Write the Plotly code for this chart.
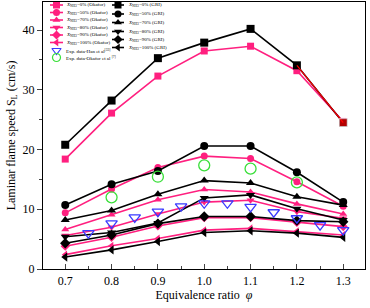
import plotly.graph_objects as go

phi = [0.7, 0.8, 0.9, 1.0, 1.1, 1.2, 1.3]

okafor_0 = [18.4, 26.1, 32.3, 36.5, 37.3, 33.2, 24.7]
okafor_50 = [9.4, 13.4, 17.0, 18.9, 18.5, 14.6, 10.5]
okafor_70 = [6.6, 9.1, 11.6, 13.3, 12.9, 10.9, 9.2]
okafor_80 = [5.6, 7.0, 9.2, 11.2, 11.5, 9.6, 8.5]
okafor_90 = [3.8, 5.3, 7.2, 8.6, 8.6, 7.8, 7.1]
okafor_100 = [2.4, 3.9, 5.1, 6.5, 6.8, 6.3, 5.7]

gri_0 = [20.8, 28.2, 35.3, 37.9, 40.2, 34.1, 24.5]
gri_50 = [10.7, 14.2, 16.4, 20.6, 20.6, 16.2, 11.2]
gri_70 = [8.2, 9.8, 12.5, 14.8, 14.4, 12.1, 10.7]
gri_80 = [5.4, 6.1, 7.7, 11.9, 12.4, 10.1, 8.2]
gri_90 = [4.3, 5.7, 7.6, 8.8, 8.8, 8.1, 7.9]
gri_100 = [2.0, 3.2, 4.6, 6.1, 6.4, 6.0, 5.3]

phi_han = [0.75, 0.8, 0.85, 0.9, 0.95, 1.0, 1.05, 1.1, 1.15, 1.2, 1.25, 1.3]
exp_han = [6.0, 7.65, 8.65, 9.6, 10.5, 11.0, 11.0, 10.4, 9.5, 8.5, 7.35, 6.5]

phi_okexp = [0.8, 0.9, 1.0, 1.1, 1.2]
exp_okafor = [12.0, 15.45, 17.35, 16.8, 14.5]

nh3_labels = ["0%", "50%", "70%", "80%", "90%", "100%"]
symbols = ["square", "circle", "triangle-up", "triangle-down", "diamond", "triangle-left"]
okafor_series = [okafor_0, okafor_50, okafor_70, okafor_80, okafor_90, okafor_100]
gri_series = [gri_0, gri_50, gri_70, gri_80, gri_90, gri_100]

PINK = "#FF1F7F"
BLACK = "#000000"
BLUE = "#3A3AFF"
GREEN = "#3ADF3A"
FONT = "Liberation Serif"

fig = go.Figure()

for vals, sym in zip(okafor_series, symbols):
    fig.add_trace(go.Scatter(x=phi, y=vals, mode="lines+markers",
                             line=dict(color=PINK, width=1.6),
                             marker=dict(symbol=sym, size=7, color=PINK),
                             showlegend=False))
for vals, sym in zip(gri_series, symbols):
    fig.add_trace(go.Scatter(x=phi, y=vals, mode="lines+markers",
                             line=dict(color=BLACK, width=1.6),
                             marker=dict(symbol=sym, size=8, color=BLACK),
                             showlegend=False))
# red last segment seen in the reference
fig.add_trace(go.Scatter(x=phi[-2:], y=gri_0[-2:], mode="lines+markers",
                         line=dict(color="#FF0000", width=1.2),
                         marker=dict(symbol="square", size=[0, 8], color="#FF0000"),
                         showlegend=False))

fig.add_trace(go.Scatter(x=phi_han, y=exp_han, mode="markers",
                         marker=dict(symbol="triangle-down-open", size=10, color=BLUE,
                                     line=dict(width=1.3)),
                         showlegend=False))
fig.add_trace(go.Scatter(x=phi_okexp, y=exp_okafor, mode="markers",
                         marker=dict(symbol="circle-open", size=11, color=GREEN,
                                     line=dict(width=1.3)),
                         showlegend=False))

# ---- manual legend on a pixel-coordinate overlay axis ----
left_rows = [5, 12.5, 20, 27.5, 35, 42.5]
right_rows = [5, 14, 22.5, 31.5, 39.5, 47.5]
LEG_FONT = dict(family=FONT, size=5, color="black")
ann = []
for i, sym in enumerate(symbols):
    y = left_rows[i]
    fig.add_trace(go.Scatter(x=[50, 63], y=[y, y], mode="lines", line=dict(color=PINK, width=1.6),
                             xaxis="x2", yaxis="y2", showlegend=False, hoverinfo="skip"))
    fig.add_trace(go.Scatter(x=[56.5], y=[y], mode="markers", marker=dict(symbol=sym, size=7, color=PINK),
                             xaxis="x2", yaxis="y2", showlegend=False, hoverinfo="skip"))
    ann.append(dict(x=64, y=y, xref="x2", yref="y2", xanchor="left", yanchor="middle",
                    text="<i>X</i><sub>NH3</sub>=%s (Okafor)" % nh3_labels[i], showarrow=False,
                    font=LEG_FONT))
    y = right_rows[i]
    fig.add_trace(go.Scatter(x=[112, 124], y=[y, y], mode="lines", line=dict(color=BLACK, width=1.6),
                             xaxis="x2", yaxis="y2", showlegend=False, hoverinfo="skip"))
    fig.add_trace(go.Scatter(x=[118], y=[y], mode="markers", marker=dict(symbol=sym, size=7, color=BLACK),
                             xaxis="x2", yaxis="y2", showlegend=False, hoverinfo="skip"))
    ann.append(dict(x=126, y=y, xref="x2", yref="y2", xanchor="left", yanchor="middle",
                    text="<i>X</i><sub>NH3</sub>=%s (GRI)" % nh3_labels[i], showarrow=False,
                    font=LEG_FONT))
fig.add_trace(go.Scatter(x=[56.5], y=[50.5], mode="markers",
                         marker=dict(symbol="triangle-down-open", size=8, color=BLUE, line=dict(width=1.2)),
                         xaxis="x2", yaxis="y2", showlegend=False, hoverinfo="skip"))
ann.append(dict(x=64, y=50.5, xref="x2", yref="y2", xanchor="left", yanchor="middle",
                text="Exp. data-Han et al<sup>[33]</sup>", showarrow=False, font=LEG_FONT))
fig.add_trace(go.Scatter(x=[56.5], y=[57.5], mode="markers",
                         marker=dict(symbol="circle-open", size=8, color=GREEN, line=dict(width=1.2)),
                         xaxis="x2", yaxis="y2", showlegend=False, hoverinfo="skip"))
ann.append(dict(x=64, y=57.5, xref="x2", yref="y2", xanchor="left", yanchor="middle",
                text="Exp. data-Okafor et al <sup>[7]</sup>", showarrow=False, font=LEG_FONT))

fig.update_layout(
    width=370, height=308,
    margin=dict(l=43, r=5, t=2, b=39, autoexpand=False),
    paper_bgcolor="white", plot_bgcolor="white",
    font=dict(family=FONT, size=12, color="black"),
    showlegend=False,
    hovermode=False,
    annotations=ann,
    xaxis=dict(range=[0.652, 1.347], tickvals=phi, ticktext=["0.7", "0.8", "0.9", "1.0", "1.1", "1.2", "1.3"],
               ticks="inside", ticklen=5, tickwidth=1, showgrid=False, zeroline=False, automargin=False,
               showline=True, linecolor="black", linewidth=1.2, mirror=True,
               minor=dict(tickvals=[0.75, 0.85, 0.95, 1.05, 1.15, 1.25], ticks="inside", ticklen=3),
               title=dict(text="Equivalence ratio  <i>φ</i>", font=dict(size=12), standoff=2),
               tickfont=dict(size=12)),
    yaxis=dict(range=[0, 44.7], tickvals=[0, 10, 20, 30, 40], automargin=False,
               ticks="outside", ticklen=5, tickwidth=1, showgrid=False, zeroline=False,
               showline=True, linecolor="black", linewidth=1.2, mirror=True,
               minor=dict(tickvals=[5, 15, 25, 35], ticks="outside", ticklen=3),
               title=dict(text="Laminar flame speed S<sub>L</sub> (cm/s)", font=dict(size=12), standoff=4),
               tickfont=dict(size=12)),
    xaxis2=dict(range=[43, 365], overlaying="x", visible=False, fixedrange=True, automargin=False),
    yaxis2=dict(range=[269, 2], overlaying="y", visible=False, fixedrange=True, automargin=False),
)

fig.write_html("out.html", config={"displayModeBar": False, "staticPlot": True},
               post_script="document.body.style.margin='0';document.body.style.overflow='hidden';")
